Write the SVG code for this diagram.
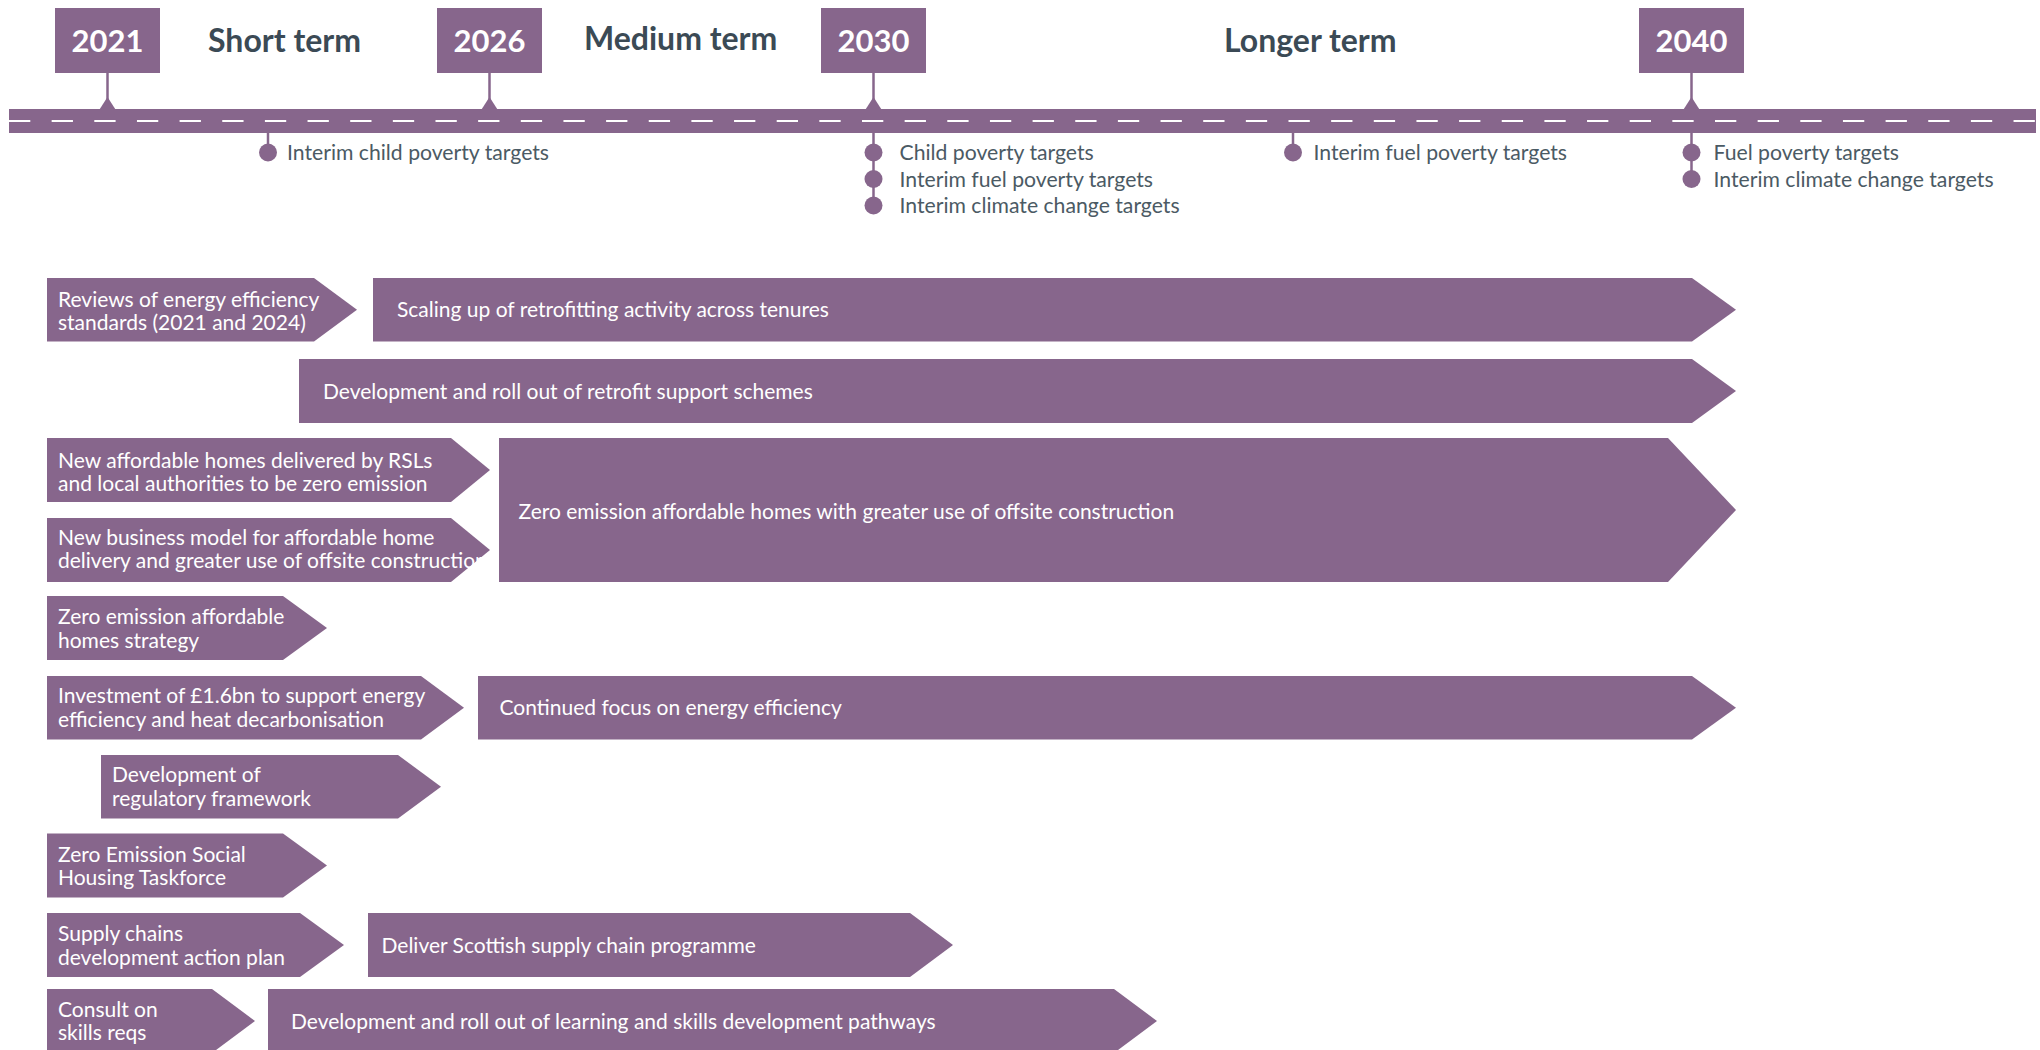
<svg xmlns="http://www.w3.org/2000/svg" width="2040" height="1050" viewBox="0 0 2040 1050">
<style>
.bar{fill:#87668c}
.t{font-family:Lato,"Open Sans","Liberation Sans",sans-serif;font-size:21px;fill:#ffffff}
.m{font-family:Lato,"Open Sans","Liberation Sans",sans-serif;font-size:21.2px;fill:#4b5a64}
.h{font-family:Lato,"Open Sans","Liberation Sans",sans-serif;font-size:32px;font-weight:700;fill:#3b4a55}
.y{font-family:Lato,"Open Sans","Liberation Sans",sans-serif;font-size:31px;font-weight:700;fill:#ffffff;text-anchor:middle}
.stem{stroke:#87668c;stroke-width:2.5;fill:none}
</style>
<rect width="2040" height="1050" fill="#ffffff"/>
<g id="road">
<rect class="bar" x="9" y="109" width="2027" height="24"/>
<line x1="9" y1="121" x2="2036" y2="121" stroke="#ffffff" stroke-width="2" stroke-dasharray="21.3 21.35"/>
</g>
<g id="y2021">
<rect class="bar" x="55" y="8" width="105" height="65"/>
<line class="stem" x1="107.5" y1="73" x2="107.5" y2="100"/>
<polygon class="bar" points="99.5,109.5 107.5,97 115.5,109.5"/>
<text class="y" x="107.5" y="52">2021</text>
</g>
<g id="y2026">
<rect class="bar" x="437" y="8" width="105" height="65"/>
<line class="stem" x1="489.5" y1="73" x2="489.5" y2="100"/>
<polygon class="bar" points="481.5,109.5 489.5,97 497.5,109.5"/>
<text class="y" x="489.5" y="52">2026</text>
</g>
<g id="y2030">
<rect class="bar" x="821" y="8" width="105" height="65"/>
<line class="stem" x1="873.5" y1="73" x2="873.5" y2="100"/>
<polygon class="bar" points="865.5,109.5 873.5,97 881.5,109.5"/>
<text class="y" x="873.5" y="52">2030</text>
</g>
<g id="y2040">
<rect class="bar" x="1639" y="8" width="105" height="65"/>
<line class="stem" x1="1691.5" y1="73" x2="1691.5" y2="100"/>
<polygon class="bar" points="1683.5,109.5 1691.5,97 1699.5,109.5"/>
<text class="y" x="1691.5" y="52">2040</text>
</g>
<g id="periods">
<text class="h" x="208" y="52">Short term</text>
<text class="h" x="584" y="50">Medium term</text>
<text class="h" x="1224" y="52">Longer term</text>
</g>
<g id="m2026">
<line class="stem" x1="268" y1="133" x2="268" y2="152"/>
<circle class="bar" cx="268" cy="152.5" r="9"/>
<text class="m" x="287" y="160">Interim child poverty targets</text>
</g>
<g id="m2030">
<line class="stem" x1="873.5" y1="133" x2="873.5" y2="205"/>
<circle class="bar" cx="873.5" cy="152.5" r="9"/>
<circle class="bar" cx="873.5" cy="179" r="9"/>
<circle class="bar" cx="873.5" cy="205.5" r="9"/>
<text class="m" x="899.5" y="160">Child poverty targets</text>
<text class="m" x="899.5" y="186.5">Interim fuel poverty targets</text>
<text class="m" x="899.5" y="213">Interim climate change targets</text>
</g>
<g id="m2035">
<line class="stem" x1="1293" y1="133" x2="1293" y2="152"/>
<circle class="bar" cx="1293" cy="152.5" r="9"/>
<text class="m" x="1313.5" y="160">Interim fuel poverty targets</text>
</g>
<g id="m2040">
<line class="stem" x1="1691.5" y1="133" x2="1691.5" y2="179"/>
<circle class="bar" cx="1691.5" cy="152.5" r="9"/>
<circle class="bar" cx="1691.5" cy="179" r="9"/>
<text class="m" x="1713.5" y="160">Fuel poverty targets</text>
<text class="m" x="1713.5" y="186.5">Interim climate change targets</text>
</g>
<g id="reviews">
<polygon class="bar" points="47,278 314,278 357,309.75 314,341.5 47,341.5"/>
<text class="t" x="58" y="306.5">Reviews of energy efficiency</text>
<text class="t" x="58" y="329.5">standards (2021 and 2024)</text>
</g>
<g id="scaling">
<polygon class="bar" points="373,278 1692,278 1736,309.75 1692,341.5 373,341.5"/>
<text class="t" x="397" y="317">Scaling up of retrofitting activity across tenures</text>
</g>
<g id="retrofit">
<polygon class="bar" points="299,359 1692,359 1736,391 1692,423 299,423"/>
<text class="t" x="323" y="399">Development and roll out of retrofit support schemes</text>
</g>
<g id="newaffordable">
<polygon class="bar" points="47,438 451,438 490,470 451,502 47,502"/>
<text class="t" x="58" y="467.5">New affordable homes delivered by RSLs</text>
<text class="t" x="58" y="491">and local authorities to be zero emission</text>
</g>
<g id="businessmodel">
<polygon class="bar" points="47,518 451,518 490,550 451,582 47,582"/>
<text class="t" x="58" y="544.5">New business model for affordable home</text>
<text class="t" x="58" y="568">delivery and greater use of offsite construction</text>
</g>
<g id="zeroemission">
<polygon class="bar" points="499,438 1668,438 1736,510 1668,582 499,582"/>
<text class="t" x="518.5" y="519">Zero emission affordable homes with greater use of offsite construction</text>
</g>
<g id="strategy">
<polygon class="bar" points="47,596 283,596 327,628 283,660 47,660"/>
<text class="t" x="58" y="624">Zero emission affordable</text>
<text class="t" x="58" y="647.5">homes strategy</text>
</g>
<g id="investment">
<polygon class="bar" points="47,676 421,676 464,707.75 421,739.5 47,739.5"/>
<text class="t" x="58" y="703">Investment of £1.6bn to support energy</text>
<text class="t" x="58" y="726.5">efficiency and heat decarbonisation</text>
</g>
<g id="continued">
<polygon class="bar" points="478,676 1692,676 1736,707.75 1692,739.5 478,739.5"/>
<text class="t" x="499.5" y="715">Continued focus on energy efficiency</text>
</g>
<g id="regulatory">
<polygon class="bar" points="101,755 398,755 441,786.75 398,818.5 101,818.5"/>
<text class="t" x="112" y="782">Development of</text>
<text class="t" x="112" y="805.5">regulatory framework</text>
</g>
<g id="taskforce">
<polygon class="bar" points="47,833.5 283,833.5 327,865.5 283,897.5 47,897.5"/>
<text class="t" x="58" y="861.5">Zero Emission Social</text>
<text class="t" x="58" y="885">Housing Taskforce</text>
</g>
<g id="supplyplan">
<polygon class="bar" points="47,913 300,913 344,945 300,977 47,977"/>
<text class="t" x="58" y="941">Supply chains</text>
<text class="t" x="58" y="964.5">development action plan</text>
</g>
<g id="supplyprog">
<polygon class="bar" points="368,913 910,913 953,945 910,977 368,977"/>
<text class="t" x="381.5" y="952.5">Deliver Scottish supply chain programme</text>
</g>
<g id="consult">
<polygon class="bar" points="47,989 212,989 255,1021 212,1053 47,1053"/>
<text class="t" x="58" y="1016.5">Consult on</text>
<text class="t" x="58" y="1040">skills reqs</text>
</g>
<g id="learning">
<polygon class="bar" points="268,989 1114,989 1157,1021 1114,1053 268,1053"/>
<text class="t" x="291" y="1028.5">Development and roll out of learning and skills development pathways</text>
</g>
<g id="connectors"></g>
</svg>
